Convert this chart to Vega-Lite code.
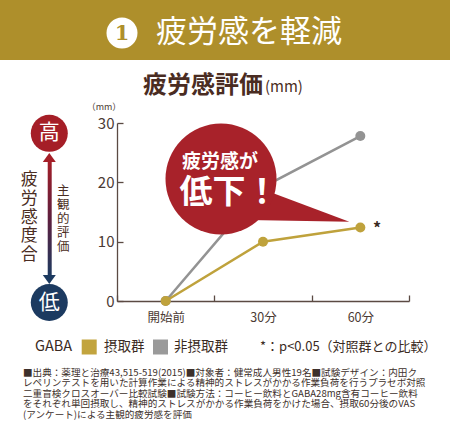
{
  "$schema": "https://vega.github.io/schema/vega-lite/v6.json",
  "description": "疲労感評価(mm) GABA摂取群 vs 非摂取群",
  "autosize": "none",
  "padding": {"left": 117, "top": 123, "right": 41, "bottom": 134},
  "width": 292,
  "height": 178,
  "background": "white",
  "datasets": {
    "fatigue": [
      {"時点": "開始前", "群": "摂取群", "値": 0},
      {"時点": "30分", "群": "摂取群", "値": 10.0},
      {"時点": "60分", "群": "摂取群", "値": 12.4},
      {"時点": "開始前", "群": "非摂取群", "値": 0},
      {"時点": "30分", "群": "非摂取群", "値": 19.2},
      {"時点": "60分", "群": "非摂取群", "値": 27.8}
    ]
  },
  "data": {"name": "fatigue"},
  "layer": [
    {
      "data": {"values": [{}]},
      "layer": [
        {
          "mark": {"type": "rect", "color": "#ae8f2b"},
          "encoding": {
            "x": {"datum": -1.21, "type": "quantitative", "scale": {"domain": [0, 3], "nice": false, "zero": false}, "axis": null},
            "x2": {"datum": 3.43},
            "y": {"datum": 51, "type": "quantitative", "scale": {"domain": [0, 30], "nice": false, "zero": false}},
            "y2": {"datum": 40.62}
          }
        },
        {
          "mark": {"type": "point", "shape": "circle", "filled": true, "opacity": 1, "color": "white", "size": 961},
          "encoding": {
            "x": {"datum": 0.0514, "type": "quantitative", "scale": {"domain": [0, 3], "nice": false, "zero": false}, "axis": null},
            "y": {"datum": 45.17, "type": "quantitative", "scale": {"domain": [0, 30], "nice": false, "zero": false}}
          }
        },
        {
          "mark": {"type": "text", "text": "1", "font": "DejaVu Serif", "fontSize": 21, "fontWeight": "bold", "color": "#ae8f2b", "baseline": "middle", "align": "center", "dy": 1},
          "encoding": {
            "x": {"datum": 0.0514, "type": "quantitative", "scale": {"domain": [0, 3], "nice": false, "zero": false}, "axis": null},
            "y": {"datum": 45.17, "type": "quantitative", "scale": {"domain": [0, 30], "nice": false, "zero": false}}
          }
        },
        {
          "mark": {"type": "text", "text": "疲労感を軽減", "fontSize": 31, "color": "white", "baseline": "middle", "align": "center"},
          "encoding": {
            "x": {"datum": 1.3562, "type": "quantitative", "scale": {"domain": [0, 3], "nice": false, "zero": false}, "axis": null},
            "y": {"datum": 45.17, "type": "quantitative", "scale": {"domain": [0, 30], "nice": false, "zero": false}}
          }
        },
        {
          "mark": {"type": "text", "text": "疲労感評価", "fontSize": 24, "fontWeight": "bold", "color": "#4a2c22", "baseline": "middle", "align": "right"},
          "encoding": {
            "x": {"datum": 1.5, "type": "quantitative", "scale": {"domain": [0, 3], "nice": false, "zero": false}, "axis": null},
            "y": {"datum": 36.24, "type": "quantitative", "scale": {"domain": [0, 30], "nice": false, "zero": false}}
          }
        },
        {
          "mark": {"type": "text", "text": "(mm)", "fontSize": 15, "color": "#4a2c22", "baseline": "middle", "align": "left"},
          "encoding": {
            "x": {"datum": 1.5205, "type": "quantitative", "scale": {"domain": [0, 3], "nice": false, "zero": false}, "axis": null},
            "y": {"datum": 36.07, "type": "quantitative", "scale": {"domain": [0, 30], "nice": false, "zero": false}}
          }
        },
        {
          "mark": {"type": "text", "text": "（mm）", "fontSize": 9, "color": "#4a3a33", "baseline": "middle", "align": "center"},
          "encoding": {
            "x": {"datum": -0.1336, "type": "quantitative", "scale": {"domain": [0, 3], "nice": false, "zero": false}, "axis": null},
            "y": {"datum": 32.7, "type": "quantitative", "scale": {"domain": [0, 30], "nice": false, "zero": false}}
          }
        },
        {
          "mark": {"type": "rect", "fill": {"gradient": "linear", "x1": 0, "y1": 0, "x2": 0, "y2": 1, "stops": [{"offset": 0, "color": "#a51e27"}, {"offset": 0.5, "color": "#5e1f3e"}, {"offset": 1, "color": "#1c3a60"}]}},
          "encoding": {
            "x": {"datum": -0.7119, "type": "quantitative", "scale": {"domain": [0, 3], "nice": false, "zero": false}, "axis": null},
            "x2": {"datum": -0.6708},
            "y": {"datum": 23.76, "type": "quantitative", "scale": {"domain": [0, 30], "nice": false, "zero": false}},
            "y2": {"datum": 4.045}
          }
        },
        {
          "mark": {"type": "point", "shape": "M0,-0.7L1,0.7L-1,0.7Z", "filled": true, "opacity": 1, "color": "#a51e27", "size": 169},
          "encoding": {
            "x": {"datum": -0.6956, "type": "quantitative", "scale": {"domain": [0, 3], "nice": false, "zero": false}, "axis": null},
            "y": {"datum": 24.19, "type": "quantitative", "scale": {"domain": [0, 30], "nice": false, "zero": false}}
          }
        },
        {
          "mark": {"type": "point", "shape": "M0,0.7L1,-0.7L-1,-0.7Z", "filled": true, "opacity": 1, "color": "#1c3a60", "size": 169},
          "encoding": {
            "x": {"datum": -0.6956, "type": "quantitative", "scale": {"domain": [0, 3], "nice": false, "zero": false}, "axis": null},
            "y": {"datum": 3.624, "type": "quantitative", "scale": {"domain": [0, 30], "nice": false, "zero": false}}
          }
        },
        {
          "mark": {"type": "point", "shape": "circle", "filled": true, "opacity": 1, "color": "#a51e27", "size": 1369},
          "encoding": {
            "x": {"datum": -0.6956, "type": "quantitative", "scale": {"domain": [0, 3], "nice": false, "zero": false}, "axis": null},
            "y": {"datum": 28.26, "type": "quantitative", "scale": {"domain": [0, 30], "nice": false, "zero": false}}
          }
        },
        {
          "mark": {"type": "text", "text": "高", "fontSize": 21, "color": "white", "baseline": "middle", "align": "center"},
          "encoding": {
            "x": {"datum": -0.6956, "type": "quantitative", "scale": {"domain": [0, 3], "nice": false, "zero": false}, "axis": null},
            "y": {"datum": 28.26, "type": "quantitative", "scale": {"domain": [0, 30], "nice": false, "zero": false}}
          }
        },
        {
          "mark": {"type": "point", "shape": "circle", "filled": true, "opacity": 1, "color": "#1c3a60", "size": 1369},
          "encoding": {
            "x": {"datum": -0.6956, "type": "quantitative", "scale": {"domain": [0, 3], "nice": false, "zero": false}, "axis": null},
            "y": {"datum": -0.253, "type": "quantitative", "scale": {"domain": [0, 30], "nice": false, "zero": false}}
          }
        },
        {
          "mark": {"type": "text", "text": "低", "fontSize": 21, "color": "white", "baseline": "middle", "align": "center"},
          "encoding": {
            "x": {"datum": -0.6956, "type": "quantitative", "scale": {"domain": [0, 3], "nice": false, "zero": false}, "axis": null},
            "y": {"datum": -0.253, "type": "quantitative", "scale": {"domain": [0, 30], "nice": false, "zero": false}}
          }
        },
        {
          "mark": {"type": "text", "text": ["疲", "労", "感", "度", "合"], "fontSize": 17, "lineHeight": 18.75, "color": "#4a2c22", "baseline": "middle", "align": "center"},
          "encoding": {
            "x": {"datum": -0.901, "type": "quantitative", "scale": {"domain": [0, 3], "nice": false, "zero": false}, "axis": null},
            "y": {"datum": 20.39, "type": "quantitative", "scale": {"domain": [0, 30], "nice": false, "zero": false}}
          }
        },
        {
          "mark": {"type": "text", "text": ["主", "観", "的", "評", "価"], "fontSize": 12.5, "lineHeight": 14, "color": "#4a2c22", "baseline": "middle", "align": "center"},
          "encoding": {
            "x": {"datum": -0.5517, "type": "quantitative", "scale": {"domain": [0, 3], "nice": false, "zero": false}, "axis": null},
            "y": {"datum": 18.59, "type": "quantitative", "scale": {"domain": [0, 30], "nice": false, "zero": false}}
          }
        },
        {
          "mark": {"type": "text", "text": "GABA", "fontSize": 14.5, "color": "#3a2a22", "baseline": "middle", "align": "left"},
          "encoding": {
            "x": {"datum": -0.8425, "type": "quantitative", "scale": {"domain": [0, 3], "nice": false, "zero": false}, "axis": null},
            "y": {"datum": -7.753, "type": "quantitative", "scale": {"domain": [0, 30], "nice": false, "zero": false}}
          }
        },
        {
          "mark": {"type": "point", "shape": "square", "filled": true, "opacity": 1, "color": "#c2a43e", "size": 225},
          "encoding": {
            "x": {"datum": -0.2856, "type": "quantitative", "scale": {"domain": [0, 3], "nice": false, "zero": false}, "axis": null},
            "y": {"datum": -7.753, "type": "quantitative", "scale": {"domain": [0, 30], "nice": false, "zero": false}}
          }
        },
        {
          "mark": {"type": "text", "text": "摂取群", "fontSize": 13.5, "color": "#3a2a22", "baseline": "middle", "align": "left"},
          "encoding": {
            "x": {"datum": -0.1336, "type": "quantitative", "scale": {"domain": [0, 3], "nice": false, "zero": false}, "axis": null},
            "y": {"datum": -7.753, "type": "quantitative", "scale": {"domain": [0, 30], "nice": false, "zero": false}}
          }
        },
        {
          "mark": {"type": "point", "shape": "square", "filled": true, "opacity": 1, "color": "#9a9a9a", "size": 225},
          "encoding": {
            "x": {"datum": 0.4469, "type": "quantitative", "scale": {"domain": [0, 3], "nice": false, "zero": false}, "axis": null},
            "y": {"datum": -7.753, "type": "quantitative", "scale": {"domain": [0, 30], "nice": false, "zero": false}}
          }
        },
        {
          "mark": {"type": "text", "text": "非摂取群", "fontSize": 13.5, "color": "#3a2a22", "baseline": "middle", "align": "left"},
          "encoding": {
            "x": {"datum": 0.5856, "type": "quantitative", "scale": {"domain": [0, 3], "nice": false, "zero": false}, "axis": null},
            "y": {"datum": -7.753, "type": "quantitative", "scale": {"domain": [0, 30], "nice": false, "zero": false}}
          }
        },
        {
          "mark": {"type": "text", "text": "*：p<0.05（対照群との比較）", "fontSize": 13, "color": "#3a2a22", "baseline": "middle", "align": "left"},
          "encoding": {
            "x": {"datum": 1.4692, "type": "quantitative", "scale": {"domain": [0, 3], "nice": false, "zero": false}, "axis": null},
            "y": {"datum": -7.753, "type": "quantitative", "scale": {"domain": [0, 30], "nice": false, "zero": false}}
          }
        },
        {
          "mark": {
            "type": "text",
            "text": [
              "■出典：薬理と治療43,515-519(2015)■対象者：健常成人男性19名■試験デザイン：内田ク",
              "レペリンテストを用いた計算作業による精神的ストレスがかかる作業負荷を行うプラセボ対照",
              "二重盲検クロスオーバー比較試験■試験方法：コーヒー飲料とGABA28mg含有コーヒー飲料",
              "をそれぞれ単回摂取し、精神的ストレスがかかる作業負荷をかけた場合、摂取60分後のVAS",
              "(アンケート)による主観的疲労感を評価"
            ],
            "fontSize": 9.6,
            "lineHeight": 10.6,
            "color": "#3d302b",
            "baseline": "middle",
            "align": "left"
          },
          "encoding": {
            "x": {"datum": -0.9658, "type": "quantitative", "scale": {"domain": [0, 3], "nice": false, "zero": false}, "axis": null},
            "y": {"datum": -12.08, "type": "quantitative", "scale": {"domain": [0, 30], "nice": false, "zero": false}}
          }
        }
      ]
    },
    {
      "transform": [{"filter": "datum['群'] === '非摂取群'"}],
      "mark": {"type": "line", "color": "#939393", "strokeWidth": 2.5, "point": {"filled": true, "size": 100, "color": "#939393", "opacity": 1}},
      "encoding": {
        "x": {
          "field": "時点",
          "type": "nominal",
          "sort": ["開始前", "30分", "60分"],
          "scale": {"type": "band", "domain": ["開始前", "30分", "60分"], "paddingInner": 0, "paddingOuter": 0},
          "axis": {
            "title": null,
            "labelAngle": 0,
            "tickBand": "extent",
            "tickSize": -6,
            "labelPadding": 16,
            "labelFontSize": 12.5,
            "labelColor": "#4b3a33",
            "domainColor": "#5b4a43",
            "tickColor": "#5b4a43",
            "domainWidth": 1.3,
            "tickWidth": 1.3
          }
        },
        "y": {
          "field": "値",
          "type": "quantitative",
          "scale": {"domain": [0, 30], "nice": false, "zero": false},
          "axis": {
            "title": null,
            "values": [0, 10, 20, 30],
            "grid": false,
            "tickSize": -6,
            "labelPadding": 9,
            "labelFontSize": 15,
            "labelColor": "#4b3a33",
            "domainColor": "#5b4a43",
            "tickColor": "#5b4a43",
            "domainWidth": 1.3,
            "tickWidth": 1.3
          }
        }
      }
    },
    {
      "data": {"values": [{}]},
      "layer": [
        {
          "mark": {"type": "point", "shape": "M-0.76,-0.32L0.986,0.334L-1.04,0.3Z", "filled": true, "opacity": 1, "color": "#a8222a", "size": 10000},
          "encoding": {
            "x": {"datum": 1.8801, "type": "quantitative", "scale": {"domain": [0, 3], "nice": false, "zero": false}, "axis": null},
            "y": {"datum": 16.18, "type": "quantitative", "scale": {"domain": [0, 30], "nice": false, "zero": false}}
          }
        },
        {
          "mark": {"type": "point", "shape": "circle", "filled": true, "opacity": 1, "color": "#a8222a", "size": 12321},
          "encoding": {
            "x": {"datum": 1.0685, "type": "quantitative", "scale": {"domain": [0, 3], "nice": false, "zero": false}, "axis": null},
            "y": {"datum": 20.56, "type": "quantitative", "scale": {"domain": [0, 30], "nice": false, "zero": false}}
          }
        },
        {
          "mark": {"type": "text", "text": "疲労感が", "fontSize": 19, "fontWeight": "bold", "color": "white", "baseline": "middle", "align": "center"},
          "encoding": {
            "x": {"datum": 1.0582, "type": "quantitative", "scale": {"domain": [0, 3], "nice": false, "zero": false}, "axis": null},
            "y": {"datum": 23.43, "type": "quantitative", "scale": {"domain": [0, 30], "nice": false, "zero": false}}
          }
        },
        {
          "mark": {"type": "text", "text": "低下！", "fontSize": 33, "fontWeight": "bold", "color": "white", "baseline": "middle", "align": "center"},
          "encoding": {
            "x": {"datum": 1.1507, "type": "quantitative", "scale": {"domain": [0, 3], "nice": false, "zero": false}, "axis": null},
            "y": {"datum": 18.2, "type": "quantitative", "scale": {"domain": [0, 30], "nice": false, "zero": false}}
          }
        },
        {
          "mark": {"type": "text", "text": "*", "fontSize": 16, "fontWeight": "bold", "color": "#3a2a22", "baseline": "middle", "align": "center"},
          "encoding": {
            "x": {"datum": 2.6712, "type": "quantitative", "scale": {"domain": [0, 3], "nice": false, "zero": false}, "axis": null},
            "y": {"datum": 12.13, "type": "quantitative", "scale": {"domain": [0, 30], "nice": false, "zero": false}}
          }
        }
      ]
    },
    {
      "transform": [{"filter": "datum['群'] === '摂取群'"}],
      "mark": {"type": "line", "color": "#bfa23c", "strokeWidth": 2.5, "point": {"filled": true, "size": 100, "color": "#bfa23c", "opacity": 1}},
      "encoding": {
        "x": {
          "field": "時点",
          "type": "nominal",
          "sort": ["開始前", "30分", "60分"],
          "scale": {"type": "band", "domain": ["開始前", "30分", "60分"], "paddingInner": 0, "paddingOuter": 0},
          "axis": null
        },
        "y": {
          "field": "値",
          "type": "quantitative",
          "scale": {"domain": [0, 30], "nice": false, "zero": false}
        }
      }
    }
  ],
  "resolve": {"scale": {"x": "independent"}},
  "config": {
    "font": "Noto Sans CJK JP",
    "view": {"stroke": null}
  }
}
